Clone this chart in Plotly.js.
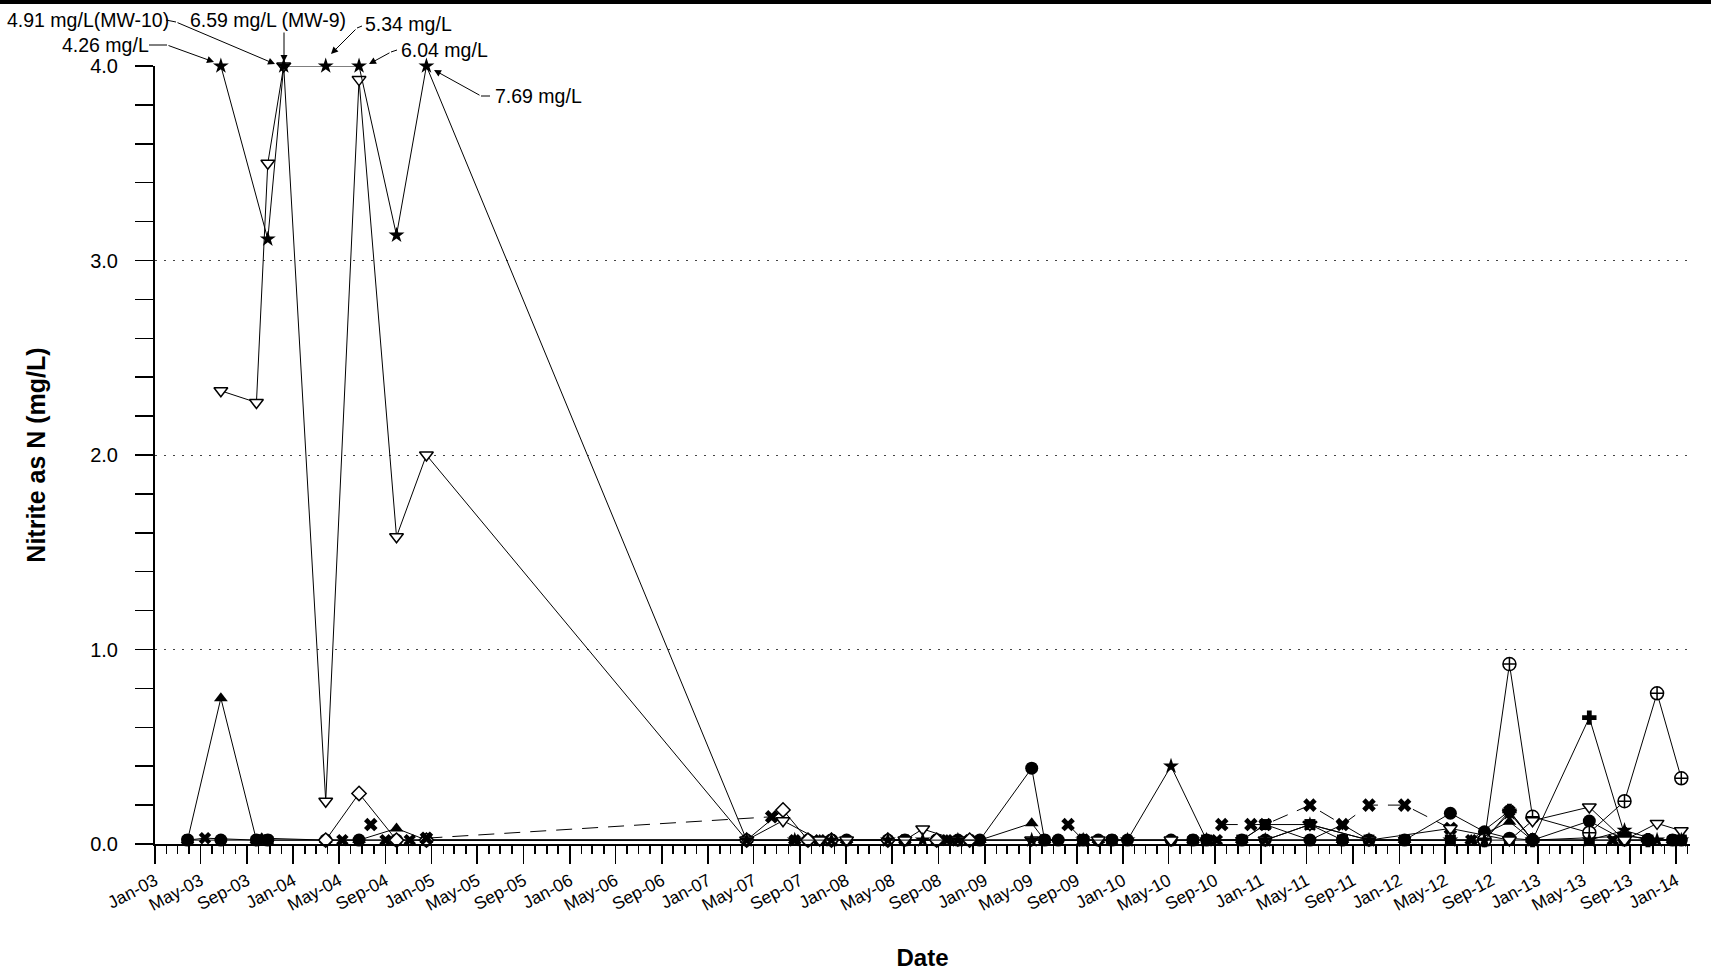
<!DOCTYPE html>
<html>
<head>
<meta charset="utf-8">
<script src="https://cdn.plot.ly/plotly-3.0.1.min.js"></script>
<style>html,body{margin:0;padding:0;background:#fff;}#chart{width:1711px;height:976px;}</style>
</head>
<body>
<div id="chart"></div>
<script>
// ---------- DATA ----------
// MW-9 : filled star
const mw9Dates = ['2003-06-24','2003-10-26','2003-12-07','2004-03-27','2004-06-23','2004-09-30','2004-12-18','2007-04-13','2007-08-18','2007-11-23','2008-04-20','2008-07-21','2008-10-22','2009-05-05','2009-09-18','2010-01-13','2010-05-08','2010-08-10','2011-01-12','2011-05-10','2011-10-13','2012-05-15','2012-08-13','2012-10-18','2012-12-18','2013-05-17','2013-08-18','2013-11-12','2014-01-15'];
const mw9Values = [4.0,3.11,4.0,4.0,4.0,3.13,4.0,0.02,0.02,0.02,0.02,0.02,0.02,0.02,0.02,0.02,0.40,0.02,0.02,0.10,0.02,0.02,0.02,0.16,0.02,0.02,0.07,0.02,0.02];

// MW-10 : open inverted triangle
const mw10Dates = ['2003-06-24','2003-09-26','2003-10-26','2003-12-07','2004-03-27','2004-06-23','2004-09-30','2004-12-18','2007-04-13','2007-07-18','2007-10-23','2008-01-02','2008-06-04','2008-07-21','2008-10-22','2009-05-05','2009-10-28','2010-05-08','2011-01-12','2011-05-10','2011-10-13','2012-05-15','2012-10-18','2012-12-18','2013-05-17','2013-08-18','2013-11-12','2014-01-15'];
const mw10Values = [2.33,2.27,3.50,4.0,0.22,3.93,1.58,2.0,0.02,0.12,0.02,0.02,0.02,0.077,0.02,0.02,0.02,0.02,0.02,0.10,0.02,0.08,0.02,0.12,0.19,0.02,0.106,0.068];

// filled triangle well
const triDates = ['2003-03-28','2003-06-24','2003-09-26','2003-10-10','2004-03-27','2004-06-23','2004-09-30','2004-12-18','2007-04-13','2007-08-18','2007-10-23','2008-01-02','2008-06-04','2008-09-23','2008-12-19','2009-05-05','2009-06-08','2009-10-28','2010-07-05','2010-11-11','2011-08-04','2012-01-15','2012-07-09','2012-10-18','2012-12-18','2013-08-18','2013-12-23'];
const triValues = [0.02,0.75,0.02,0.03,0.02,0.02,0.08,0.02,0.02,0.02,0.02,0.02,0.02,0.02,0.02,0.107,0.02,0.02,0.02,0.02,0.02,0.02,0.02,0.115,0.02,0.04,0.02];

// open diamond well
const diaDates = ['2004-03-27','2004-06-23','2004-09-30','2004-12-18','2007-04-13','2007-07-18','2007-09-22','2007-11-23','2008-04-20','2008-08-27','2008-11-22'];
const diaValues = [0.02,0.26,0.02,0.02,0.02,0.175,0.02,0.02,0.02,0.02,0.02];

// X well drawn with a dashed line (null = break in line)
const xDashDates = ['2004-07-24','2004-09-01','2004-12-18','2007-06-18','2007-08-01','2009-08-09','2009-09-18','2009-10-01','2010-09-19','2010-12-05','2011-01-12','2011-05-10','2011-08-04','2011-10-13','2012-01-15','2012-05-15'];
const xDashValues = [0.10,null,0.03,0.14,null,0.10,0.02,null,0.10,0.10,0.10,0.20,0.10,0.20,0.20,0.08];

// filled circle well
const cirDates = ['2003-03-28','2003-06-24','2003-09-26','2003-10-26','2004-03-27','2004-06-23','2004-09-30','2004-12-18','2007-04-13','2007-09-22','2007-11-23','2008-01-02','2008-04-20','2008-06-04','2008-08-27','2008-10-22','2008-12-19','2009-05-05','2009-06-08','2009-07-14','2009-09-18','2009-10-28','2009-12-03','2010-01-13','2010-05-08','2010-07-05','2010-08-10','2010-11-11','2011-01-12','2011-05-10','2011-08-04','2011-10-13','2012-01-15','2012-05-15','2012-08-13','2012-10-18','2012-12-18','2013-05-17','2013-08-18','2013-10-19','2013-12-23','2014-01-15'];
const cirValues = [0.02,0.02,0.02,0.02,0.02,0.02,0.02,0.02, 0.02,0.02,0.02,0.02,0.02,0.02,0.02,0.02,0.02, 0.39, 0.02,0.02,0.02,0.02,0.02,0.02, 0.02,0.02,0.02,0.02,0.02,0.02,0.02,0.02,0.02, 0.158,0.063,0.03,0.02,0.118, 0.02,0.02,0.02,0.02];

// circled-plus well
const cpDates = ['2012-08-13','2012-10-18','2012-12-18','2013-05-17','2013-08-18','2013-11-12','2014-01-15'];
const cpValues = [0.02,0.925,0.14,0.058,0.22,0.775,0.338];

// thick plus well
const plusDates = ['2012-08-13','2012-10-18','2012-12-18','2013-05-17','2013-08-18','2013-10-19'];
const plusValues = [0.02,0.17,0.02,0.65,0.05,0.02];

// filled square well
const sqDates = ['2010-08-10','2010-11-11','2011-01-12','2011-05-10','2011-08-04','2011-10-13','2012-01-15','2012-05-15','2012-10-18','2013-05-17','2013-10-19','2014-01-15'];
const sqValues = [0.02,0.02,0.10,0.10,0.02,0.02,0.02,0.02,0.02,0.02,0.02,0.02];

// X well, solid line
const xDates = ['2003-03-28','2003-05-13','2003-09-26','2003-10-26','2004-05-10','2004-09-01','2004-11-04','2007-08-18','2007-10-23','2007-11-23','2008-06-04','2008-08-27','2008-09-23','2008-11-22','2009-06-08','2009-09-18','2009-12-03','2010-07-05','2010-09-06','2012-07-09','2012-10-18','2012-12-18','2013-07-18','2013-10-19','2013-12-23'];
const xValues = [0.02,0.03,0.02,0.02,0.02,0.02,0.02,0.02,0.02,0.02,0.02,0.02,0.02,0.02,0.02,0.02,0.02,0.02,0.02,0.02,0.17,0.02,0.02,0.02,0.02];

// filled inverted triangle well
const itDates = ['2010-11-11','2011-01-12','2011-05-10','2011-08-04','2011-10-13','2012-01-15'];
const itValues = [0.02,0.10,0.02,0.10,0.02,0.02];

// axis labels / callouts
const yTickVals = [0,1,2,3,4];
const yTickText = ['0.0','1.0','2.0','3.0','4.0'];
const calloutTexts = ['4.91 mg/L(MW-10)','4.26 mg/L','6.59 mg/L (MW-9)','5.34 mg/L','6.04 mg/L','7.69 mg/L'];

// ---------- LAYOUT HELPERS ----------
const W = 1711, H = 976;
const PL = 155, PR = 1690, PT = 66, PB = 844;
const px = p => (p - PL) / (PR - PL);
const py = p => (PB - p) / (PB - PT);
const FONT = 'Liberation Sans, Arial, Helvetica, sans-serif';

function tr(x, y, symbol, size, opts) {
  opts = opts || {};
  return {
    type: 'scatter', mode: 'lines+markers', x: x, y: y,
    connectgaps: false, cliponaxis: false, showlegend: false,
    line: {color: 'black', width: 1, dash: opts.dash || 'solid'},
    marker: {symbol: symbol, size: size, color: opts.fill || 'black',
             line: {color: 'black', width: opts.lw === undefined ? 0 : opts.lw}}
  };
}

const data = [
  tr(xDates, xValues, 'x', 11),
  tr(sqDates, sqValues, 'square', 11),
  tr(itDates, itValues, 'triangle-down', 12),
  tr(cirDates, cirValues, 'circle', 13),
  tr(triDates, triValues, 'triangle-up', 12),
  tr(diaDates, diaValues, 'diamond', 11, {fill: 'white', lw: 1.5}),
  tr(xDashDates, xDashValues, 'x', 12, {dash: '16px,10px'}),
  tr(plusDates, plusValues, 'cross', 12),
  tr(cpDates, cpValues, 'circle-cross', 13, {fill: 'white', lw: 1.5}),
  tr(mw10Dates, mw10Values, 'triangle-down', 12, {fill: 'white', lw: 1.5}),
  tr(mw9Dates, mw9Values, 'star', 12)
];

// callouts: text left edge / centre y, elbow (tail) and arrow head, in pixels
const callouts = [
  {t: 0, tx: 5,   ty: 20, tail: [176, 22], head: [275, 64], elbow: [166, 20]},
  {t: 1, tx: 60,  ty: 45, tail: [167, 45], head: [214, 62], elbow: [149, 45]},
  {t: 2, tx: 188, ty: 20, tail: [284, 31], head: [284, 62], elbow: null},
  {t: 3, tx: 363, ty: 24, tail: [357, 28], head: [331, 54], elbow: [362, 26]},
  {t: 4, tx: 399, ty: 50, tail: [391, 52], head: [369, 64], elbow: [397, 50]},
  {t: 5, tx: 493, ty: 96, tail: [481, 96], head: [434, 70], elbow: [490, 96]}
];

const annotations = [];
const shapes = [
  {type: 'rect', xref: 'paper', yref: 'paper', x0: px(0), x1: px(W), y0: py(4), y1: py(0),
   fillcolor: 'black', line: {width: 0}, layer: 'above'}
];
callouts.forEach(c => {
  annotations.push({xref: 'paper', yref: 'paper', x: px(c.tx), y: py(c.ty), xanchor: 'left', yanchor: 'middle',
    text: calloutTexts[c.t], showarrow: false, font: {family: FONT, size: 19.5, color: 'black'}});
  annotations.push({xref: 'paper', yref: 'paper', x: px(c.head[0]), y: py(c.head[1]),
    ax: c.tail[0] - c.head[0], ay: c.tail[1] - c.head[1], text: '', showarrow: true,
    arrowhead: 2, arrowsize: 1.4, arrowwidth: 1, arrowcolor: 'black', standoff: 0, startstandoff: 0});
  if (c.elbow) shapes.push({type: 'line', xref: 'paper', yref: 'paper',
    x0: px(c.elbow[0]), y0: py(c.elbow[1]), x1: px(c.tail[0]), y1: py(c.tail[1]),
    line: {color: 'black', width: 1}});
});

const layout = {
  width: W, height: H,
  margin: {l: PL, r: W - PR, t: PT, b: H - PB},
  paper_bgcolor: 'white', plot_bgcolor: 'white',
  font: {family: FONT, color: 'black'},
  showlegend: false,
  xaxis: {
    type: 'date', range: ['2003-01-01', '2014-02-07'],
    tickmode: 'linear', tick0: '2003-01-01', dtick: 'M4', tickformat: '%b-%y',
    ticks: 'outside', ticklen: 18, tickwidth: 1.5, tickcolor: 'black',
    minor: {dtick: 'M1', ticks: 'outside', ticklen: 8, tickwidth: 1.5, tickcolor: 'black', showgrid: false},
    tickangle: -28, tickfont: {family: FONT, size: 17.5, color: 'black'},
    showline: true, linewidth: 2, linecolor: 'black', showgrid: false, zeroline: false,
    title: {text: '<b>Date</b>', font: {family: FONT, size: 24, color: 'black'}, standoff: 35}
  },
  yaxis: {
    range: [0, 4], tickmode: 'array', tickvals: yTickVals, ticktext: yTickText,
    ticks: 'outside', ticklen: 18, tickwidth: 1.5, tickcolor: 'black',
    minor: {dtick: 0.2, ticks: 'outside', ticklen: 18, tickwidth: 1.5, tickcolor: 'black', showgrid: false},
    tickfont: {family: FONT, size: 20, color: 'black'}, ticklabelstandoff: 13,
    showline: true, linewidth: 2, linecolor: 'black',
    showgrid: true, gridcolor: '#444', gridwidth: 1, griddash: '2px,7px', zeroline: false,
    title: {text: '<b>Nitrite as N (mg/L)</b>', font: {family: FONT, size: 25, color: 'black'}, standoff: 37}
  },
  shapes: shapes,
  annotations: annotations
};

Plotly.newPlot('chart', data, layout, {displayModeBar: false, staticPlot: true});
</script>
</body>
</html>
